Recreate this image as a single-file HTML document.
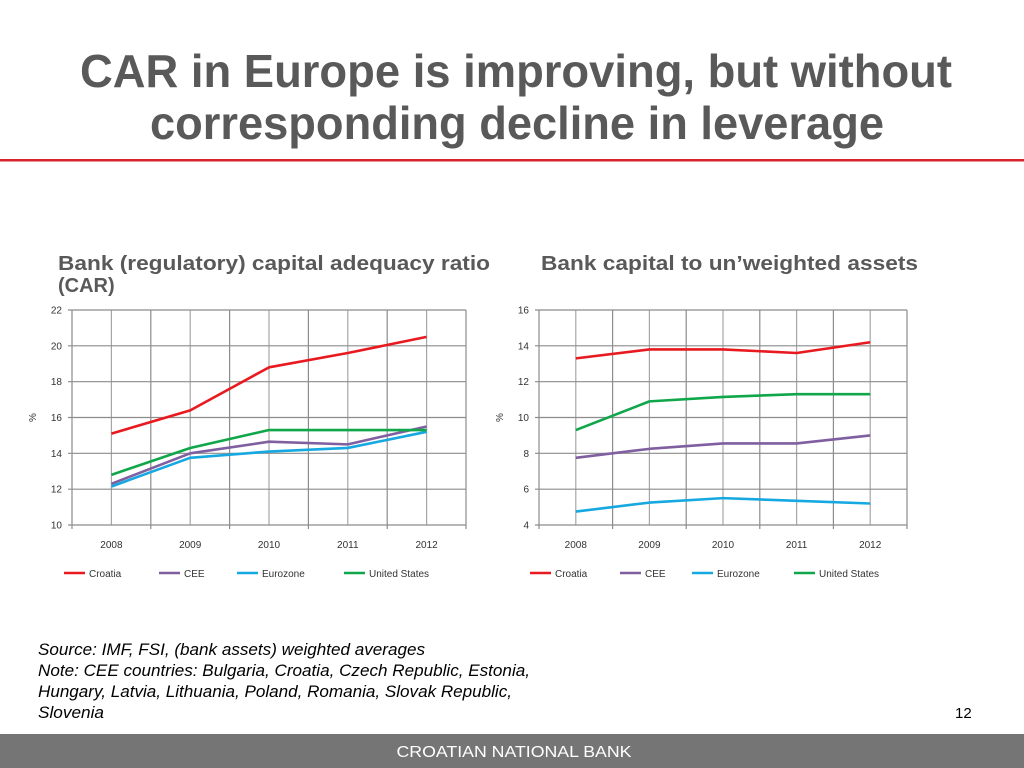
<!DOCTYPE html>
<html><head><meta charset="utf-8"><style>
html,body{margin:0;padding:0;background:#fff;}
svg{display:block;font-family:"Liberation Sans",sans-serif;}
</style></head><body>
<svg id="page" width="1024" height="768" viewBox="0 0 1024 768">
<text x="516" y="87" text-anchor="middle" font-size="46" font-weight="bold" fill="#595959" textLength="872" lengthAdjust="spacingAndGlyphs">CAR in Europe is improving, but without</text>
<text x="517" y="139" text-anchor="middle" font-size="46" font-weight="bold" fill="#595959" textLength="734" lengthAdjust="spacingAndGlyphs">corresponding decline in leverage</text>
<rect x="0" y="159" width="1024" height="2.5" fill="#d9232e"/>
<text x="58" y="270" font-size="20" font-weight="bold" fill="#595959" textLength="432" lengthAdjust="spacingAndGlyphs">Bank (regulatory) capital adequacy ratio</text>
<text x="58" y="292" font-size="20" font-weight="bold" fill="#595959">(CAR)</text>
<text x="541" y="270" font-size="20" font-weight="bold" fill="#595959" textLength="377" lengthAdjust="spacingAndGlyphs">Bank capital to un’weighted assets</text>
<g id="left"></g>
<g id="right"></g>
<g font-size="17" font-style="italic" fill="#000" lengthAdjust="spacingAndGlyphs">
<text x="38" y="655" textLength="387" lengthAdjust="spacingAndGlyphs">Source: IMF, FSI, (bank assets) weighted averages</text>
<text x="38" y="676" textLength="492" lengthAdjust="spacingAndGlyphs">Note: CEE countries: Bulgaria, Croatia, Czech Republic, Estonia,</text>
<text x="38" y="697" textLength="474" lengthAdjust="spacingAndGlyphs">Hungary, Latvia, Lithuania, Poland, Romania, Slovak Republic,</text>
<text x="38" y="718" textLength="66" lengthAdjust="spacingAndGlyphs">Slovenia</text>
</g>
<text x="955" y="718" font-size="15" fill="#000">12</text>
<rect x="0" y="734" width="1024" height="34" fill="#757575"/>
<text x="514" y="757" text-anchor="middle" font-size="16" fill="#fff" textLength="235" lengthAdjust="spacingAndGlyphs">CROATIAN NATIONAL BANK</text>
</svg>
<script>
const categories = ["2008","2009","2010","2011","2012"];
const seriesNames = ["Croatia","CEE","Eurozone","United States"];
const seriesColors = ["#e8191f","#7f5fa0","#16a8e0","#10a64a"];
const leftTicks = [10,12,14,16,18,20,22];
const leftCroatia = [15.1,16.4,18.8,19.6,20.5];
const leftCEE = [12.3,14.0,14.65,14.5,15.5];
const leftEurozone = [12.15,13.75,14.1,14.3,15.2];
const leftUS = [12.8,14.3,15.3,15.3,15.3];
const rightTicks = [4,6,8,10,12,14,16];
const rightCroatia = [13.3,13.8,13.8,13.6,14.2];
const rightCEE = [7.75,8.25,8.55,8.55,9.0];
const rightEurozone = [4.75,5.25,5.5,5.35,5.2];
const rightUS = [9.3,10.9,11.15,11.3,11.3];

const NS = "http://www.w3.org/2000/svg";
function mk(tag, attrs, parent){
  const e = document.createElementNS(NS, tag);
  for (const k in attrs) e.setAttribute(k, attrs[k]);
  parent.appendChild(e);
  return e;
}
function drawChart(g, x0, x1, ticks, series, legendX, name){
  const y0 = 525, y1 = 310;
  const min = ticks[0], max = ticks[ticks.length-1];
  const half = (x1 - x0) / (categories.length * 2);
  const xs = i => x0 + half * (2*i + 1);
  const ys = v => y0 - (v - min) / (max - min) * (y0 - y1);
  for (let j = 0; j <= categories.length*2; j++) {
    const l = mk('line', {x1:x0+half*j, x2:x0+half*j, y1:y1, y2:y0+(j%2===0?4:0), stroke:(j%2===1?'#a6a6a6':'#8c8c8c'), 'stroke-width':1.2}, g);
    
    
  }
  ticks.forEach(t => {
    const l = mk('line', {x1:x0-4, x2:x1, y1:ys(t), y2:ys(t), stroke:'#8c8c8c', 'stroke-width':1.2}, g);
    
    
    const tx = mk('text', {x:x0-10, y:ys(t)+3.5, 'text-anchor':'end', 'font-size':10, fill:'#333'}, g);
    tx.textContent = t;
    
    
  });
  categories.forEach((c, i) => {
    const tx = mk('text', {x:xs(i), y:548, 'text-anchor':'middle', 'font-size':10, fill:'#333'}, g);
    tx.textContent = c;
    
    
  });
  const yt = mk('text', {x:0, y:0, 'text-anchor':'middle', 'font-size':10, fill:'#333', transform:`translate(${x0-36},${(y0+y1)/2}) rotate(-90)`}, g);
  yt.textContent = '%';
  
  
  series.forEach((vals, s) => {
    const p = mk('polyline', {points: vals.map((v,i)=>xs(i)+','+ys(v)).join(' '), fill:'none', stroke:seriesColors[s], 'stroke-width':2.6, 'stroke-linejoin':'round'}, g);
    
    
  });
  seriesNames.forEach((n, s) => {
    const lx = legendX[s];
    const l = mk('line', {x1:lx, x2:lx+21, y1:573, y2:573, stroke:seriesColors[s], 'stroke-width':2.6}, g);
    
    
    const tx = mk('text', {x:lx+25, y:577, 'font-size':10, fill:'#333'}, g);
    tx.textContent = n;
    
    
  });
}
drawChart(document.getElementById('left'), 72, 466, leftTicks, [leftCroatia,leftCEE,leftEurozone,leftUS], [64,159,237,344], 'left');
drawChart(document.getElementById('right'), 539, 907, rightTicks, [rightCroatia,rightCEE,rightEurozone,rightUS], [530,620,692,794], 'right');
</script>
</body></html>
